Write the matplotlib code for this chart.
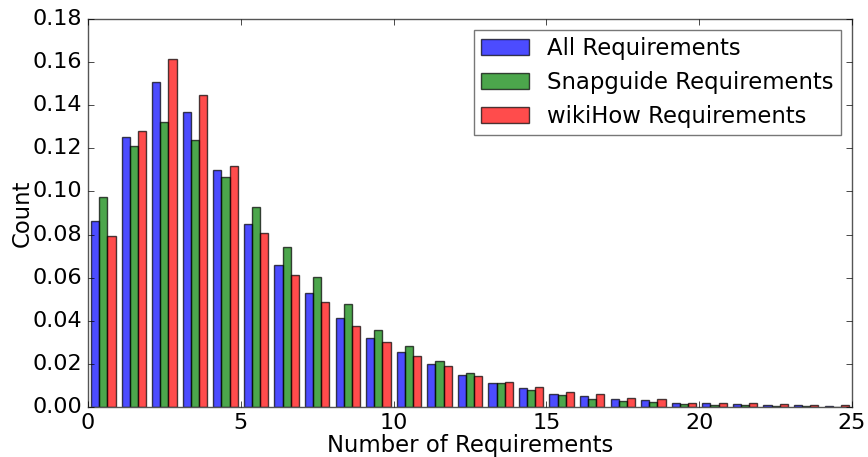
import numpy as np
import matplotlib
matplotlib.use("Agg")
import matplotlib.pyplot as plt

plt.style.use("classic")

# Normalised histogram heights, one value per unit-wide bin starting at 0
bin_starts = list(range(25))
all_req = [0.0863, 0.1254, 0.1506, 0.1370, 0.1098, 0.0851, 0.0660, 0.0530, 0.0411, 0.0320,
           0.0254, 0.0198, 0.0147, 0.0111, 0.0088, 0.0062, 0.0051, 0.0038, 0.0033, 0.0019,
           0.0019, 0.0013, 0.0010, 0.0008, 0.0006]
snapguide_req = [0.0976, 0.1209, 0.1321, 0.1237, 0.1066, 0.0927, 0.0744, 0.0602, 0.0478, 0.0359,
                 0.0282, 0.0215, 0.0158, 0.0110, 0.0079, 0.0054, 0.0038, 0.0029, 0.0024, 0.0013,
                 0.0010, 0.0007, 0.0004, 0.0006, 0.0002]
wikihow_req = [0.0792, 0.1282, 0.1613, 0.1446, 0.1117, 0.0806, 0.0611, 0.0489, 0.0374, 0.0300,
               0.0235, 0.0189, 0.0142, 0.0115, 0.0094, 0.0068, 0.0060, 0.0043, 0.0038, 0.0019,
               0.0019, 0.0019, 0.0015, 0.0010, 0.0010]

series = [
    ("All Requirements", all_req, "b"),
    ("Snapguide Requirements", snapguide_req, "g"),
    ("wikiHow Requirements", wikihow_req, "r"),
]

fig = plt.figure(figsize=(8.68, 4.57), dpi=100, facecolor="white")
ax = fig.add_axes([0.1014, 0.1094, 0.8802, 0.8490])

bin_width = 1.0
bar_w = 0.8 * bin_width / len(series)
starts = np.array(bin_starts, dtype=float)
for k, (label, vals, color) in enumerate(series):
    ax.bar(starts + 0.1 * bin_width + k * bar_w, vals, width=bar_w, align="edge",
           color=color, alpha=0.7, edgecolor="black", linewidth=1.0, label=label)

ax.set_xlim(0, 25)
ax.set_ylim(0, 0.18)
ax.set_xticks([0, 5, 10, 15, 20, 25])
ax.set_yticks(np.arange(0, 0.181, 0.02))
ax.set_yticklabels([f"{v:.2f}" for v in np.arange(0, 0.181, 0.02)])
ax.tick_params(labelsize=16)
ax.set_xlabel("Number of Requirements", fontsize=16.4, labelpad=1)
ax.set_ylabel("Count", fontsize=16.4, labelpad=-1)
for s in ax.spines.values():
    s.set_color("#555555")

leg = ax.legend(loc="upper right", fontsize=16.4, frameon=True, fancybox=False,
                handlelength=2.1, labelspacing=0.48, borderpad=0.3, borderaxespad=0.5)
leg.get_frame().set_edgecolor("#777777")

fig.savefig("out.png", dpi=100, facecolor="white")
